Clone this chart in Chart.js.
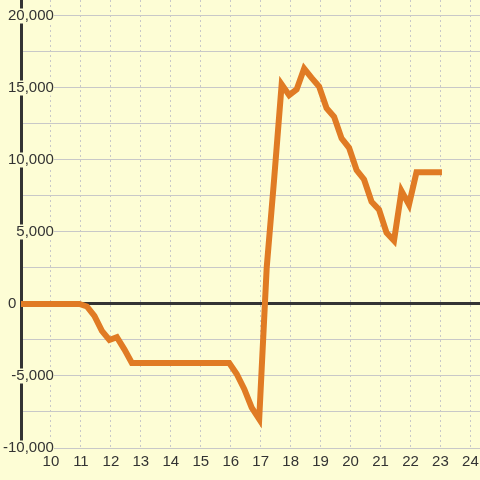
<!DOCTYPE html>
<html>
<head>
<meta charset="utf-8">
<script src="https://cdn.jsdelivr.net/npm/chart.js@4/dist/chart.umd.min.js"></script>
<style>
  html, body { margin: 0; padding: 0; background: #fdfdd5; }
  #wrap { width: 480px; height: 480px; }
</style>
</head>
<body>
<div id="wrap"><canvas id="chart" width="480" height="480"></canvas></div>
<script>
// series (x in hours, y in value units)
const xValues = [9, 10.95, 11.2, 11.45, 11.7, 11.95, 12.2, 12.45, 12.7, 15.95,
  16.2, 16.45, 16.7, 16.95, 17.2, 17.45, 17.7, 17.95, 18.2, 18.45,
  18.7, 18.95, 19.2, 19.45, 19.7, 19.95, 20.2, 20.45, 20.7, 20.95,
  21.2, 21.45, 21.7, 21.95, 22.2, 22.45, 22.7, 22.95];
const yValues = [0, 0, -170, -830, -1870, -2500, -2300, -3150, -4100, -4100,
  -4860, -5900, -7200, -8000, 2500, 8700, 15250, 14500, 14900, 16350,
  15700, 15100, 13600, 13000, 11500, 10850, 9300, 8650, 7100, 6550,
  4950, 4400, 7850, 6900, 9150, 9150, 9150, 9150];

// y grid every 2500, labels every 5000
const yTickValues = [-10000, -7500, -5000, -2500, 0, 2500, 5000, 7500,
  10000, 12500, 15000, 17500, 20000];
const yLabelStep = 5000;

const xMin = 9, xMax = 24.32;
const yMin = -10000, yMax = 21111;

const bg = '#fdfdd5';
const gridColor = '#c8c8c8';
const inkColor = '#333333';
const lineColor = '#e07b24';
const fontFamily = '"Liberation Sans", Arial, sans-serif';

const points = xValues.map((x, i) => ({ x: x, y: yValues[i] }));

new Chart(document.getElementById('chart'), {
  type: 'line',
  data: {
    datasets: [{
      data: points,
      borderColor: lineColor,
      borderWidth: 6,
      borderCapStyle: 'square',
      pointRadius: 0,
      tension: 0,
      fill: false
    }]
  },
  options: {
    responsive: false,
    animation: false,
    layout: { padding: { left: 21, top: 0, right: 0, bottom: 4 } },
    plugins: { legend: { display: false }, tooltip: { enabled: false } },
    scales: {
      x: {
        type: 'linear',
        min: xMin,
        max: xMax,
        // let the plot run to the right edge, the last label fits anyway
        afterFit: scale => { scale.paddingLeft = 0; scale.paddingRight = 0; },
        border: { display: false, dash: [2, 3] },
        grid: { color: gridColor, lineWidth: 1, drawTicks: false },
        ticks: {
          stepSize: 1,
          includeBounds: false,
          autoSkip: false,
          maxRotation: 0,
          padding: 5,
          color: inkColor,
          font: { family: fontFamily, size: 15 },
          callback: v => v === 9 ? null : String(v)
        }
      },
      y: {
        min: yMin,
        max: yMax,
        afterBuildTicks: scale => { scale.ticks = yTickValues.map(v => ({ value: v })); },
        afterFit: scale => { scale.width = 0; },
        border: { display: true, color: inkColor, width: 3 },
        grid: {
          drawTicks: false,
          color: ctx => ctx.tick && ctx.tick.value === 0 ? inkColor : gridColor,
          lineWidth: ctx => ctx.tick && ctx.tick.value === 0 ? 3 : 1
        },
        ticks: {
          autoSkip: false,
          mirror: true,
          crossAlign: 'far',
          padding: -18,
          color: inkColor,
          font: { family: fontFamily, size: 15, lineHeight: 1 },
          showLabelBackdrop: ctx => !!ctx.tick && ctx.tick.value % yLabelStep === 0 && ctx.tick.value !== 0,
          backdropColor: bg,
          backdropPadding: ctx => ({ top: ctx.tick && ctx.tick.value === 20000 ? 9 : 0, bottom: 0, left: 2, right: 1 }),
          callback: v => {
            if (v % yLabelStep !== 0) return '';
            if (v === 0) return '0         ';
            return v.toLocaleString('en-US');
          }
        }
      }
    }
  }
});
</script>
</body>
</html>
